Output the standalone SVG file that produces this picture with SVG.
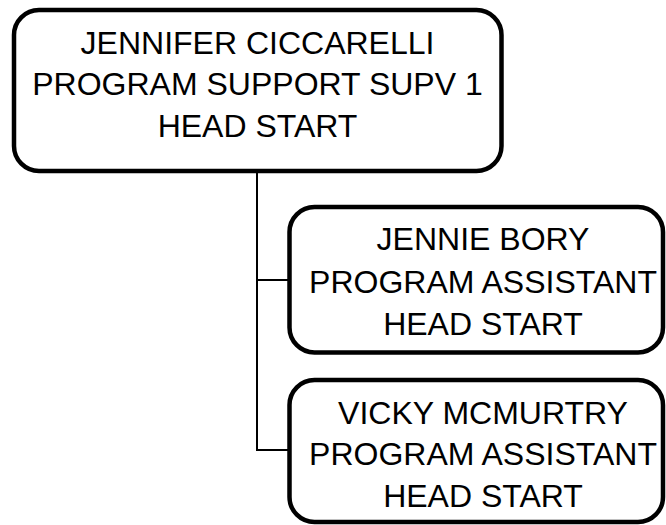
<svg xmlns="http://www.w3.org/2000/svg" width="666" height="525" viewBox="0 0 666 525">
<style>
.box{fill:#fff;stroke:#000;stroke-width:4.5}
.t{font-family:"Liberation Sans",Arial,sans-serif;font-size:32px;fill:#000;text-anchor:middle;dominant-baseline:central}
.c{fill:none;stroke:#000;stroke-width:2}
</style>
<rect width="666" height="525" fill="#fff"/>
<g id="connectors">
<path class="c" d="M257 171 V450 H290 M257 280 H290"/>
</g>
<g id="n1">
<rect class="box" x="14" y="10" width="487.5" height="161" rx="25"/>
<text class="t" x="257.5" y="42.5">JENNIFER CICCARELLI</text>
<text class="t" x="257.5" y="84">PROGRAM SUPPORT SUPV 1</text>
<text class="t" x="257.5" y="126">HEAD START</text>
</g>
<g id="n2">
<rect class="box" x="289.5" y="207" width="373.5" height="145.5" rx="25"/>
<text class="t" x="483" y="239">JENNIE BORY</text>
<text class="t" x="483" y="281.5">PROGRAM ASSISTANT</text>
<text class="t" x="483" y="324">HEAD START</text>
</g>
<g id="n3">
<rect class="box" x="289.5" y="380" width="373.5" height="142" rx="25"/>
<text class="t" x="483" y="412.5">VICKY MCMURTRY</text>
<text class="t" x="483" y="454">PROGRAM ASSISTANT</text>
<text class="t" x="483" y="496">HEAD START</text>
</g>
</svg>
